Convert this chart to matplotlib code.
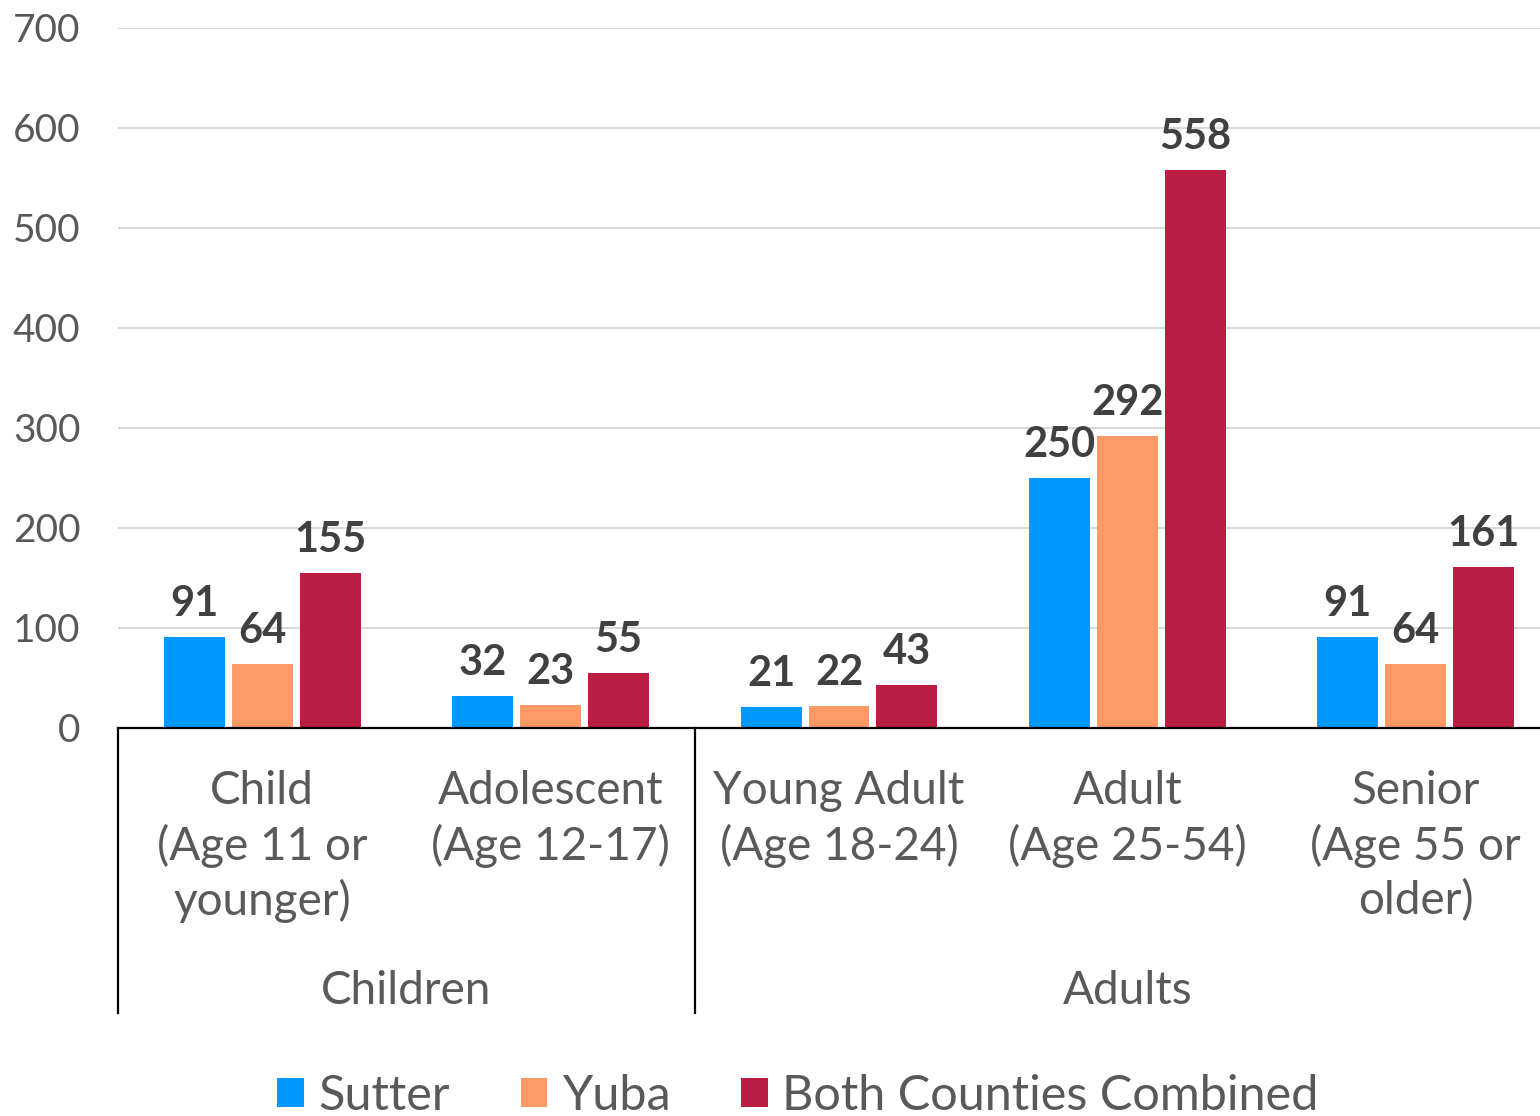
"""Clients by age group, Sutter vs Yuba vs both counties combined."""

import matplotlib

matplotlib.use("Agg")
import matplotlib.pyplot as plt
import numpy as np
from matplotlib.lines import Line2D
from matplotlib.patches import Patch
from matplotlib.transforms import blended_transform_factory

plt.rcParams["font.family"] = ["Lato", "DejaVu Sans"]

categories = [
    "Child\n(Age 11 or\nyounger)",
    "Adolescent\n(Age 12-17)",
    "Young Adult\n(Age 18-24)",
    "Adult\n(Age 25-54)",
    "Senior\n(Age 55 or\nolder)",
]
groups = ["Children", "Adults"]
group_spans = [(0, 1), (2, 4)]  # category index range per group

series_names = ["Sutter", "Yuba", "Both Counties Combined"]
sutter = [91, 32, 21, 250, 91]
yuba = [64, 23, 22, 292, 64]
combined = [155, 55, 43, 558, 161]

colors = ["#0099FF", "#FF9966", "#B91E42"]
TEXT = "#595959"
LABEL = "#404040"

W, H = 1540, 1116
fig = plt.figure(figsize=(W / 100, H / 100), dpi=100)
ax = fig.add_axes([118 / W, 1 - 728 / H, 1442 / W, 700 / H])


def fy(px):
    """Figure fraction for a pixel row measured from the top."""
    return 1 - px / H


x = np.arange(len(categories))
bar_w = 0.2114
step = 0.2357
for i, (vals, col) in enumerate(zip([sutter, yuba, combined], colors)):
    bars = ax.bar(x + (i - 1) * step, vals, width=bar_w, color=col, zorder=3)
    for rect, v in zip(bars, vals):
        ax.annotate(
            str(v),
            (rect.get_x() + rect.get_width() / 2, v),
            xytext=(0, 15),
            textcoords="offset points",
            ha="center",
            va="baseline",
            fontsize=30,
            fontweight="bold",
            color=LABEL,
        )

ax.set_xlim(-0.5, len(categories) - 0.5)
ax.set_ylim(0, 700)
ax.set_yticks(range(0, 701, 100))
ax.tick_params(axis="y", length=0, pad=27, labelsize=28, labelcolor=TEXT)
ax.set_xticks([])
ax.yaxis.grid(True, color="#D9D9D9", linewidth=1.5, zorder=0)
ax.set_axisbelow(True)
for side in ["left", "right", "top"]:
    ax.spines[side].set_visible(False)
ax.spines["bottom"].set_color("black")
ax.spines["bottom"].set_linewidth(1.6)
ax.spines["bottom"].set_zorder(4)

# two-level category axis
trans = blended_transform_factory(ax.transData, fig.transFigure)
for xi, lab in zip(x, categories):
    ax.text(xi, fy(770), lab, transform=trans, ha="center", va="top",
            fontsize=33, color=TEXT, linespacing=1.32)
for name, (a, b) in zip(groups, group_spans):
    ax.text((a + b) / 2, fy(970), name, transform=trans, ha="center", va="top",
            fontsize=33, color=TEXT)
for sep in [-0.5, 1.5, 4.5]:
    ax.add_line(Line2D([sep, sep], [fy(728), fy(1013)], transform=trans,
                       color="black", linewidth=1.6, clip_on=False))

handles = [Patch(facecolor=c, edgecolor="none") for c in colors]
fig.legend(
    handles,
    series_names,
    loc="center",
    bbox_to_anchor=(798 / W, fy(1096)),
    ncol=3,
    frameon=False,
    fontsize=35,
    labelcolor=TEXT,
    handlelength=0.55,
    handleheight=0.55,
    handletextpad=0.3,
    columnspacing=1.45,
)

fig.savefig("out.png", dpi=100)
